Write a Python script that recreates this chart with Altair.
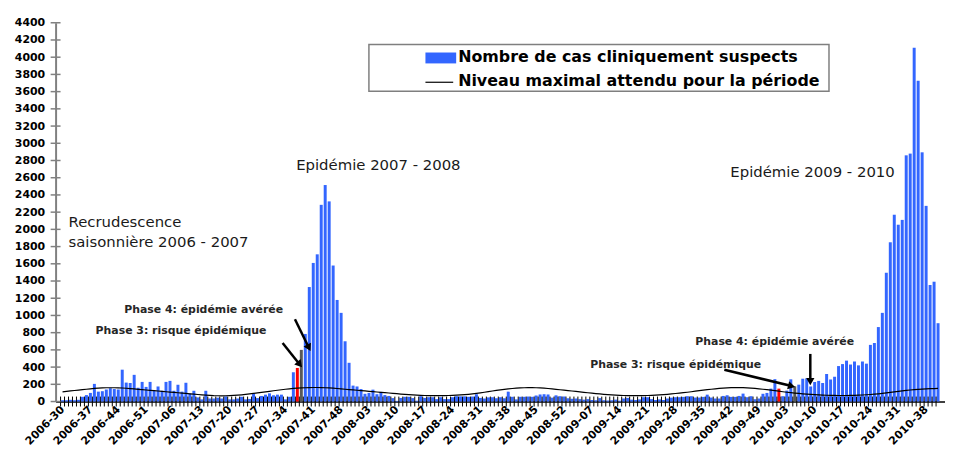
import altair as alt
import pandas as pd

# ---------------- data ----------------
YEAR_WEEK_RANGES = [(2006, 30, 52), (2007, 1, 52), (2008, 1, 52), (2009, 1, 53), (2010, 1, 41)]
WEEKS = [f"{y}-{w:02d}" for y, a, b in YEAR_WEEK_RANGES for w in range(a, b + 1)]

TICK_LABELS = ["2006-30", "2006-37", "2006-44", "2006-51", "2007-06", "2007-13", "2007-20",
               "2007-27", "2007-34", "2007-41", "2007-48", "2008-03", "2008-10", "2008-17",
               "2008-24", "2008-31", "2008-38", "2008-45", "2008-52", "2009-07", "2009-14",
               "2009-21", "2009-28", "2009-35", "2009-42", "2009-49", "2010-03", "2010-10",
               "2010-17", "2010-24", "2010-31", "2010-38"]

CASES = [
    15, 15, 20, 15, 20, 55, 75, 100, 205, 115, 120, 140, 155, 145, 140, 370, 220, 215, 310, 160,
    228, 170, 228, 125, 175, 125, 228, 240, 125, 195, 115, 218, 92, 125, 48, 25, 125, 35, 35, 45,
    35, 60, 25, 25, 35, 55, 25, 30, 92,
    40, 65, 80, 95, 73, 80, 80, 25, 55, 340, 390, 600,
    785, 1330, 1610, 1710, 2285, 2515, 2325, 1580, 1180, 1030, 700, 450,
    185, 175, 145, 90, 100, 138, 85, 112, 75, 65, 40, 8, 42, 55, 55, 40, 10, 62, 42, 50,
    50, 28, 50, 28, 28, 50, 62, 60,
    60, 55, 58, 85, 42, 35, 48, 50, 38, 50, 38, 115, 55, 25, 55, 55, 58, 55, 70, 82,
    85, 82, 45, 72, 62, 58, 38, 32, 35, 28, 22, 28, 18, 15, 40, 15, 12, 15, 22, 10,
    35, 42, 22, 18, 25, 50, 50, 28, 18, 25, 18, 35, 45, 50, 50,
    54, 62, 62, 46, 46, 54, 80, 46, 35, 35, 65, 73, 54, 54, 65, 92, 50, 62, 27, 35,
    90, 100, 150, 260, 150, 62, 127, 258, 177, 196, 265, 270, 175,
    227, 240, 215, 320, 256, 288, 412, 435, 475, 430, 465, 420, 465, 440, 658, 680,
    865, 1030, 1496, 1850, 2170, 2054, 2110, 2860, 2880, 4110, 3725, 2895, 2273, 1354, 1392, 910,
]

EXPECTED = [
    113, 118, 123, 128, 133, 138, 143, 148, 152, 156, 159,
    160, 160, 160, 159, 157, 154, 150, 146, 142, 138,
    134, 130, 126, 122, 118, 114, 110, 106, 102, 98,
    94, 90, 86, 82, 78, 74, 71, 68, 67, 66,
    67, 69, 71, 74, 78, 83, 89, 95, 101, 107,
    113, 119, 125, 131, 137, 143, 148, 152, 155, 158,
    160, 162, 163, 163, 162, 160, 158, 155, 151, 147,
    143, 139, 135, 131, 127, 123, 119, 115, 111, 107,
    103, 99, 95, 91, 87, 83, 80, 77, 74, 72,
    70, 69, 68, 68, 68, 69, 70, 72, 74, 77,
    80, 84, 89, 95, 101, 108, 115, 122, 129, 135,
    141, 146, 151, 155, 158, 160, 161, 161, 160, 158,
    155, 151, 147, 142, 137, 132, 127, 122, 117, 112,
    107, 102, 97, 92, 88, 84, 80, 77, 74, 72,
    70, 69, 68, 68, 68, 69, 70, 72, 74, 77,
    80, 84, 88, 93, 98, 103, 108, 114, 120, 126,
    132, 138, 143, 148, 152, 156, 159, 161, 162, 162,
    161, 159, 156, 152, 148, 143, 138, 132, 126, 120,
    114, 108, 103, 98, 94, 90, 86, 83, 80, 77,
    75, 73, 72, 71, 70, 70, 70, 71, 72, 74,
    76, 79, 82, 86, 90, 95, 100, 106, 112, 118,
    124, 129, 134, 138, 142, 145, 148, 150, 151, 152,
]

PHASE3_WEEKS = ["2007-37", "2010-01"]
PHASE4_WEEKS = ["2007-38", "2010-05"]
Y_TICKS = list(range(0, 4401, 200))

SERIES_BAR = "Nombre de cas cliniquement suspects"
SERIES_LINE = "Niveau maximal attendu pour la période"

# annotations in data coordinates (week index, cases)
BIG_NOTES = pd.DataFrame({
    "x": [1.5, 1.5, 58.7, 167.8],
    "y": [2085, 1855, 2742, 2661],
    "t": ["Recrudescence", "saisonnière 2006 - 2007", "Epidémie 2007 - 2008", "Epidémie 2009 - 2010"],
})
PHASE_NOTES = pd.DataFrame({
    "x": [15.5, 8.3, 159.0, 132.6],
    "y": [1060, 818, 691, 426],
    "t": ["Phase 4: épidémie avérée", "Phase 3:  risque épidémique",
          "Phase 4: épidémie avérée", "Phase 3:  risque épidémique"],
})
ARROWS = pd.DataFrame({
    "x": [55.3, 58.4, 166.3, 187.9],
    "y": [680, 956, 369, 553],
    "x2": [59.6, 61.9, 183.2, 187.9],
    "y2": [430, 625, 180, 232],
    "ang": [140, 153, 104, 180],
})

# ---------------- table ----------------
kind = ["p3" if w in PHASE3_WEEKS else "p4" if w in PHASE4_WEEKS else "n" for w in WEEKS]
df = pd.DataFrame({"idx": list(range(len(WEEKS))), "week": WEEKS, "cases": CASES,
                   "expected": EXPECTED, "kind": kind})

W, H = 897, 382
FONT = "DejaVu Sans"
xs = alt.Scale(domain=[-0.5, len(WEEKS) - 0.5], nice=False, zero=False)
ys = alt.Scale(domain=[0, 4400], nice=False, zero=True)

label_arr = "[" + ",".join(f"'{t}'" for t in TICK_LABELS) + "]"
x_axis = alt.Axis(values=list(range(0, len(WEEKS), 7)),
                  labelExpr=f"{label_arr}[round(datum.value/7)]",
                  labelAngle=-45, labelAlign="right", labelBaseline="middle",
                  labelFont=FONT, labelFontWeight="bold", labelFontSize=11, labelColor="black",
                  labelPadding=6, labelOverlap=False, labelBound=False, labelFlush=False,
                  ticks=False, grid=False, title=None, domainColor="black", domainWidth=1.5)
y_axis = alt.Axis(values=Y_TICKS, format="d", ticks=False, grid=False, title=None,
                  labelFont=FONT, labelFontWeight="bold", labelFontSize=11, labelColor="black",
                  labelPadding=11, labelOverlap=False, domainColor="#808080", domainWidth=2)


def X(field):
    return alt.X(field, type="quantitative", scale=xs, axis=x_axis)


def Y(field):
    return alt.Y(field, type="quantitative", scale=ys, axis=y_axis)


base = alt.Chart(df)

bars = base.mark_bar(size=3).encode(
    x=X("idx"), y=Y("cases"),
    color=alt.Color("kind:N", scale=alt.Scale(domain=["n", "p3", "p4"],
                                              range=["#3366ff", "#ff0000", "#595959"]), legend=None),
)

xticks = base.mark_rule(color="black", strokeWidth=1).transform_calculate(
    tx="datum.idx - 0.5").encode(x=X("tx"), y=alt.value(H - 5), y2=alt.value(H + 5))

line = base.mark_line(color="black", strokeWidth=1.2).encode(x=X("idx"), y=Y("expected"))

yticks = alt.Chart(pd.DataFrame({"v": Y_TICKS})).mark_rule(color="#808080", strokeWidth=1.5).encode(
    y=Y("v"), x=alt.value(-5), x2=alt.value(5))

big = alt.Chart(BIG_NOTES).mark_text(align="left", baseline="middle", font=FONT, fontSize=15,
                                     color="#1a1a1a").encode(x=X("x"), y=Y("y"), text="t:N")

phase = alt.Chart(PHASE_NOTES).mark_text(align="left", baseline="middle", font=FONT, fontSize=11,
                                         fontWeight="bold", color="#262626").encode(
    x=X("x"), y=Y("y"), text="t:N")

arrow_lines = alt.Chart(ARROWS).mark_rule(color="black", strokeWidth=2.5).encode(
    x=X("x"), y=Y("y"), x2="x2:Q", y2="y2:Q")
arrow_heads = alt.Chart(ARROWS).mark_point(shape="triangle-up", filled=True, color="black",
                                           size=70, opacity=1).encode(
    x=X("x2"), y=Y("y2"), angle=alt.Angle("ang:Q", scale=None))

one = pd.DataFrame({"k": [0]})
leg_box = alt.Chart(one).mark_rect(fill="white", stroke="#7f7f7f", strokeWidth=1.5).encode(
    x=alt.value(316), x2=alt.value(780), y=alt.value(22), y2=alt.value(69))
leg_swatch = alt.Chart(one).mark_rect(fill="#3366ff").encode(
    x=alt.value(373), x2=alt.value(404), y=alt.value(30), y2=alt.value(41))
leg_line = alt.Chart(one).mark_rule(color="black", strokeWidth=1.2).encode(
    x=alt.value(373), x2=alt.value(401), y=alt.value(60))
leg_text1 = alt.Chart(one).mark_text(
    align="left", baseline="middle", font=FONT, fontSize=16, fontWeight="bold", color="black",
    text=SERIES_BAR).encode(x=alt.value(406), y=alt.value(35))
leg_text2 = alt.Chart(one).mark_text(
    align="left", baseline="middle", font=FONT, fontSize=16, fontWeight="bold", color="black",
    text=SERIES_LINE).encode(x=alt.value(406), y=alt.value(59))

chart = alt.layer(
    bars, xticks, line, yticks, big, phase, arrow_lines, arrow_heads,
    leg_box, leg_swatch, leg_line, leg_text1, leg_text2
).properties(
    width=W, height=H,
    autosize=alt.AutoSizeParams(type="none"),
    padding={"left": 48, "top": 13, "right": 0, "bottom": 48},
).configure_view(stroke=None)

chart.save("out.html", embed_options={"renderer": "svg", "actions": False})
